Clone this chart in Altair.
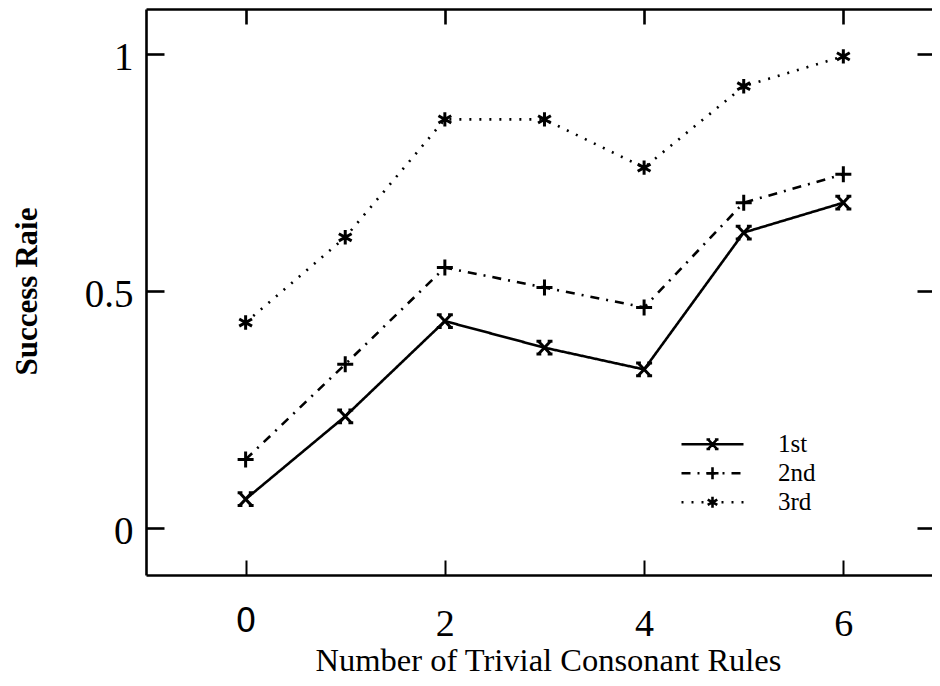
import altair as alt
import pandas as pd

# ---- data ----
rules = [0, 1, 2, 3, 4, 5, 6]
first = [0.060, 0.235, 0.436, 0.380, 0.334, 0.623, 0.686]
second = [0.144, 0.345, 0.549, 0.507, 0.465, 0.686, 0.746]
third = [0.433, 0.613, 0.862, 0.862, 0.760, 0.932, 0.995]
series_names = ["1st", "2nd", "3rd"]
marker_names = ["m1", "m2", "m3"]
x_ticks = [0, 2, 4, 6]
y_ticks = [0, 0.5, 1]

rows = []
for name, mk, vals in zip(series_names, marker_names, [first, second, third]):
    for x, v in zip(rules, vals):
        rows.append({"rules": x, "rate": v, "series": name, "marker": mk})
df = pd.DataFrame(rows)

W, H = 786, 566
SERIF = "Liberation Serif"

xs = alt.Scale(domain=[-1, 6.89], nice=False, zero=False)
ys = alt.Scale(domain=[-0.1, 1.095], nice=False, zero=False)

dash_scale = alt.Scale(domain=series_names, range=[[1, 0], [9, 7, 2, 7], [2, 8]])
X_PATH = "M-0.75,-0.8L0.75,0.8M-0.75,0.8L0.75,-0.8M-1,-0.8H-0.4M0.4,-0.8H1M-1,0.8H-0.4M0.4,0.8H1"
PLUS_PATH = "M-1,0H1M0,-1V1"
STAR_PATH = "M0,-0.9V0.9M-0.8,-0.45L0.8,0.45M-0.8,0.45L0.8,-0.45"
shape_scale = alt.Scale(domain=marker_names, range=[X_PATH, PLUS_PATH, STAR_PATH])

# main axes with labels and titles
ax_x_labels = alt.Axis(
    orient="bottom", values=x_ticks, domain=False, ticks=False, grid=False,
    labelExpr="'' + datum.value",
    labelFont={"expr": "datum.value == 0 ? 'DejaVu Sans' : 'Liberation Serif'"},
    labelFontSize={"expr": "datum.value == 0 ? 33 : 38"},
    labelColor="black", labelPadding=30, labelFlush=False, labelOverlap=False,
    title="Number of Trivial Consonant Rules", titleFont=SERIF, titleFontSize=32.5,
    titleFontWeight="normal", titleColor="black", titleBaseline="alphabetic",
    titleY=95, titleX=402,
)
ax_y_labels = alt.Axis(
    orient="left", values=y_ticks, domain=False, ticks=False, grid=False,
    labelExpr="'' + datum.value", labelFont=SERIF, labelFontSize=39,
    labelColor="black", labelPadding=13, labelOffset=4, labelFlush=False,
    labelOverlap=False,
    title="Success Raie", titleFont=SERIF, titleFontSize=31,
    titleFontWeight="bold", titleColor="black", titleBaseline="alphabetic",
    titleAlign="center", titleX=-110, titleY=282,
)
# frame + inward ticks: bottom & left
ax_x_bottom_frame = alt.Axis(
    orient="top", offset=-H, values=x_ticks, labels=False, title=None, grid=False,
    domain=True, domainColor="black", domainWidth=2.6,
    ticks=True, tickSize=15, tickWidth=2, tickColor="black",
)
ax_y_left_frame = alt.Axis(
    orient="right", offset=-W, values=y_ticks, labels=False, title=None, grid=False,
    domain=True, domainColor="black", domainWidth=2.6,
    ticks=True, tickSize=18, tickWidth=2.6, tickColor="black",
)
# frame + inward ticks: top & right
ax_x_top_frame = alt.Axis(
    orient="bottom", offset=-H, values=x_ticks, labels=False, title=None, grid=False,
    domain=True, domainColor="black", domainWidth=2.6,
    ticks=True, tickSize=15, tickWidth=2.6, tickColor="black",
)
ax_y_right_frame = alt.Axis(
    orient="left", offset=-W, values=y_ticks, labels=False, title=None, grid=False,
    domain=False, ticks=True, tickSize=15, tickWidth=2.6, tickColor="black",
)

base = alt.Chart(df)

lines = base.mark_line(color="black", strokeWidth=2.6).encode(
    x=alt.X("rules:Q", scale=xs, axis=ax_x_labels),
    y=alt.Y("rate:Q", scale=ys, axis=ax_y_labels),
    strokeDash=alt.StrokeDash(
        "series:N", scale=dash_scale,
        legend=alt.Legend(
            orient="none", legendX=534, legendY=421, title=None,
            symbolType="stroke", symbolSize=3844, symbolStrokeWidth=2.4,
            symbolStrokeColor="black", labelFont=SERIF, labelFontSize=25,
            labelColor="black", clipHeight=28.5, rowPadding=0, labelOffset=33,
        ),
    ),
    detail="series:N",
)

points = base.mark_point(filled=False, color="black", strokeWidth=3, size=256, opacity=1).encode(
    x=alt.X("rules:Q", scale=xs, axis=ax_x_bottom_frame),
    y=alt.Y("rate:Q", scale=ys, axis=ax_y_left_frame),
    shape=alt.Shape(
        "marker:N", scale=shape_scale,
        legend=alt.Legend(
            orient="none", legendX=559, legendY=421, title=None,
            symbolSize=144, symbolStrokeWidth=2.6, symbolStrokeColor="black",
            symbolFillColor="transparent", labelExpr="''", clipHeight=28.5,
            rowPadding=0,
        ),
    ),
)

ghost = base.mark_point(opacity=0).encode(
    x=alt.X("rules:Q", scale=xs, axis=ax_x_top_frame),
    y=alt.Y("rate:Q", scale=ys, axis=ax_y_right_frame),
)

chart = (
    alt.layer(lines, points, ghost)
    .resolve_axis(x="independent", y="independent")
    .properties(
        width=W, height=H,
        autosize=alt.AutoSizeParams(type="none"),
        padding={"left": 138, "top": 1, "right": 0, "bottom": 103},
        background="white",
    )
    .configure_view(stroke=None)
)

chart.save("out.html", embed_options={"renderer": "svg", "actions": False})
